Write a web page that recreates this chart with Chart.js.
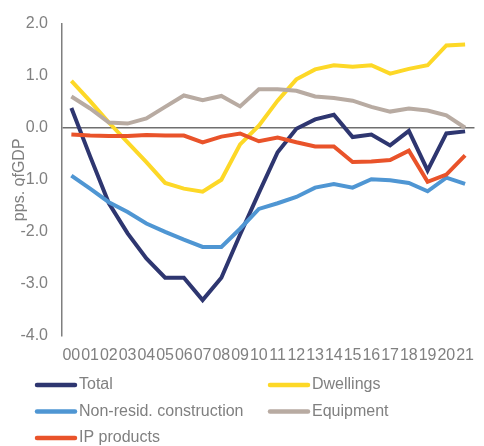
<!DOCTYPE html>
<html>
<head>
<meta charset="utf-8">
<script src="https://cdn.jsdelivr.net/npm/chart.js@4/dist/chart.umd.min.js"></script>
<style>
  html, body { margin: 0; padding: 0; background: #ffffff; }
  #wrap { width: 484px; height: 446px; }
</style>
</head>
<body>
<div id="wrap"><canvas id="c" width="484" height="446"></canvas></div>
<script>
const years = ['00','01','02','03','04','05','06','07','08','09','10','11','12','13','14','15','16','17','18','19','20','21'];
const total = [0.38, -0.55, -1.45, -2.03, -2.51, -2.88, -2.88, -3.31, -2.88, -2.05, -1.25, -0.47, -0.02, 0.16, 0.25, -0.18, -0.13, -0.34, -0.06, -0.82, -0.11, -0.07];
const dwellings = [0.90, 0.51, 0.10, -0.28, -0.66, -1.06, -1.17, -1.23, -1.00, -0.32, 0.04, 0.52, 0.93, 1.12, 1.20, 1.17, 1.20, 1.04, 1.13, 1.20, 1.58, 1.60];
const nonResid = [-0.92, -1.17, -1.43, -1.62, -1.84, -2.00, -2.15, -2.29, -2.29, -1.94, -1.56, -1.45, -1.33, -1.15, -1.08, -1.15, -0.99, -1.01, -1.06, -1.22, -0.96, -1.08];
const equipment = [0.60, 0.37, 0.10, 0.08, 0.18, 0.40, 0.62, 0.53, 0.61, 0.41, 0.74, 0.74, 0.71, 0.60, 0.57, 0.52, 0.40, 0.31, 0.37, 0.33, 0.24, 0.00];
const ipProducts = [-0.13, -0.15, -0.16, -0.16, -0.14, -0.15, -0.15, -0.28, -0.17, -0.11, -0.26, -0.19, -0.28, -0.36, -0.36, -0.66, -0.65, -0.62, -0.44, -1.04, -0.90, -0.53];
const seriesNames = ['Total', 'Dwellings', 'Non-resid. construction', 'Equipment', 'IP products'];
const yTicks = [-4, -3, -2, -1, 0, 1, 2];
const yTitle = 'pps. ofGDP';

const colors = ['#2e3670', '#fdd827', '#4f96d3', '#b8aba2', '#e9532a'];
const seriesData = [total, dwellings, nonResid, equipment, ipProducts];

Chart.defaults.font.family = "'Liberation Sans', Arial, sans-serif";
Chart.defaults.font.size = 16;
Chart.defaults.color = '#808080';

const legendPlugin = {
  id: 'gridLegend',
  afterDraw(chart) {
    const ctx = chart.ctx;
    const colX = [35, 268];
    const rowY = [385, 411.5, 438];
    ctx.save();
    chart.data.datasets.forEach((ds, i) => {
      const x0 = colX[i % 2];
      const y = rowY[Math.floor(i / 2)];
      ctx.strokeStyle = ds.borderColor;
      ctx.lineWidth = 4.5;
      ctx.lineCap = 'round';
      ctx.beginPath();
      ctx.moveTo(x0 + 2, y);
      ctx.lineTo(x0 + 40, y);
      ctx.stroke();
      ctx.fillStyle = '#808080';
      ctx.font = "16px 'Liberation Sans', Arial, sans-serif";
      ctx.textBaseline = 'middle';
      ctx.textAlign = 'left';
      ctx.fillText(ds.label, x0 + 44, y);
    });
    ctx.restore();
  }
};

new Chart(document.getElementById('c'), {
  type: 'line',
  data: {
    labels: years,
    datasets: seriesData.map((d, i) => ({
      label: seriesNames[i],
      data: d,
      borderColor: colors[i],
      backgroundColor: colors[i],
      borderWidth: 4,
      pointRadius: 0,
      pointHoverRadius: 0,
      tension: 0,
      fill: false,
      borderJoinStyle: 'miter',
      order: 5 - i
    }))
  },
  options: {
    responsive: false,
    animation: false,
    devicePixelRatio: 1,
    layout: { padding: { top: 22, right: 0, bottom: 86, left: 0 } },
    plugins: {
      legend: { display: false },
      tooltip: { enabled: false }
    },
    scales: {
      x: {
        offset: true,
        grid: { display: false, drawTicks: false },
        border: { display: false },
        ticks: { autoSkip: false, maxRotation: 0, minRotation: 0, padding: 10, color: '#808080', font: { size: 16 } },
        afterFit(scale) { scale.height = 24; }
      },
      y: {
        min: -4,
        max: 2,
        afterBuildTicks(scale) { scale.ticks = yTicks.map(v => ({ value: v })); },
        grid: {
          drawTicks: false,
          color: (c) => (c.tick && c.tick.value === 0) ? '#6f6f6f' : 'rgba(0,0,0,0)',
          lineWidth: 1.5
        },
        border: { display: true, color: '#7f7f7f', width: 1.5 },
        ticks: {
          padding: 14,
          color: '#808080',
          font: { size: 16 },
          callback: (v) => Number(v).toFixed(1)
        },
        title: {
          display: true,
          text: yTitle,
          color: '#808080',
          font: { size: 16 },
          padding: { top: 10, bottom: 0 }
        },
        afterFit(scale) { scale.width = 62; }
      }
    }
  },
  plugins: [legendPlugin]
});
</script>
</body>
</html>
